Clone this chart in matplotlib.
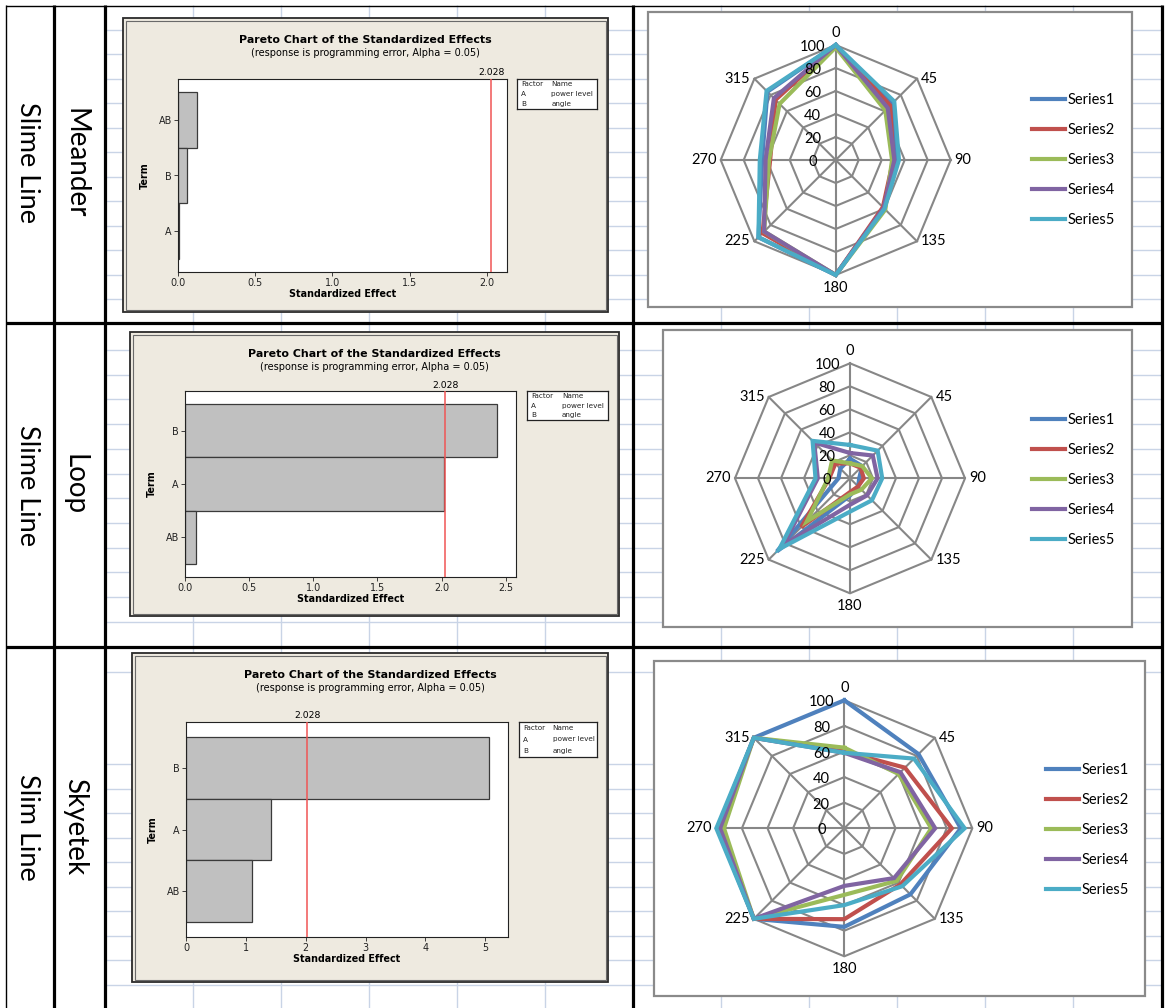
import numpy as np
import matplotlib
matplotlib.use('Agg')
import matplotlib.pyplot as plt
from matplotlib.patches import Rectangle
from matplotlib.transforms import blended_transform_factory

# ---------------- data ----------------
row_group = ['Slime Line', 'Slime Line', 'Slim Line']
row_name = ['Meander', 'Loop', 'Skyetek']

pareto_title = 'Pareto Chart of the Standardized Effects'
pareto_subtitle = '(response is programming error, Alpha = 0.05)'
alpha_limit = 2.028
factor_rows = [('Factor', 'Name'), ('A', 'power level'), ('B', 'angle')]

pareto1_terms = ['AB', 'B', 'A']          # top to bottom
pareto1_effects = [0.12, 0.056, 0.005]
pareto1_ticks = [0.0, 0.5, 1.0, 1.5, 2.0]
pareto1_tick_labels = ['0.0', '0.5', '1.0', '1.5', '2.0']

pareto2_terms = ['B', 'A', 'AB']
pareto2_effects = [2.43, 2.02, 0.085]
pareto2_ticks = [0.0, 0.5, 1.0, 1.5, 2.0, 2.5]
pareto2_tick_labels = ['0.0', '0.5', '1.0', '1.5', '2.0', '2.5']

pareto3_terms = ['B', 'A', 'AB']
pareto3_effects = [5.06, 1.42, 1.11]
pareto3_ticks = [0, 1, 2, 3, 4, 5]
pareto3_tick_labels = ['0', '1', '2', '3', '4', '5']

angles = [0, 45, 90, 135, 180, 225, 270, 315]
radial_ticks = [0, 20, 40, 60, 80, 100]
series_names = ['Series1', 'Series2', 'Series3', 'Series4', 'Series5']
series_colors = ['#4F81BD', '#C0504D', '#9BBB59', '#8064A2', '#4BACC6']

radar1 = [
    [100, 70, 53, 59, 100, 95, 64, 84],
    [100, 67, 50, 58, 100, 90, 57, 74],
    [98, 61, 49, 61, 100, 88, 58, 69],
    [100, 64, 51, 59, 100, 88, 61, 76],
    [100, 72, 55, 60, 100, 95, 66, 85],
]
radar2 = [
    [17, 15, 8, 10, 15, 90, 10, 12],
    [13, 13, 12, 10, 12, 60, 18, 18],
    [13, 15, 19, 14, 14, 53, 19, 22],
    [22, 28, 24, 21, 23, 82, 28, 44],
    [29, 34, 28, 27, 29, 87, 30, 46],
]
radar3 = [
    [100, 82, 91, 73, 77, 100, 99, 100],
    [60, 67, 84, 62, 71, 100, 98, 100],
    [63, 60, 68, 58, 52, 100, 94, 100],
    [59, 62, 71, 55, 45, 100, 97, 100],
    [59, 77, 94, 64, 60, 100, 100, 100],
]

# ---------------- layout helpers ----------------
W, H = 1165, 1008
fig = plt.figure(figsize=(W / 100, H / 100), dpi=100)
fig.patch.set_facecolor('white')


def px_axes(x0, y0, x1, y1, **kw):
    return fig.add_axes([x0 / W, 1 - y1 / H, (x1 - x0) / W, (y1 - y0) / H], **kw)


def ftext(x, y, s, **kw):
    return fig.text(x / W, 1 - y / H, s, **kw)


bg = px_axes(0, 0, W, H)
bg.set_xlim(0, W)
bg.set_ylim(H, 0)
bg.axis('off')

gridc = '#c9d4e6'
hy = list(30 + 24.45 * np.arange(12)) + list(350 + 24.7 * np.arange(12)) + [672] + list(764 + 24.5 * np.arange(10))
bg.hlines(hy, 105, 1161, color=gridc, lw=1.0, zorder=1)
vx = [x for x in (193 + 88 * np.arange(12)) if abs(x - 633) > 3 and abs(x - 1161) > 3]
bg.vlines(vx, 5, H, color=gridc, lw=1.0, zorder=1)

# table lines
bg.vlines([6], 5, H, color='black', lw=1.0, zorder=5)
bg.hlines([5.5], 6, 1162, color='black', lw=1.0, zorder=5)
bg.vlines([54, 105, 633, 1161.5], 5, H, color='black', lw=2.3, zorder=5)
bg.hlines([323, 647], 6, 1163, color='black', lw=2.3, zorder=5)

row_centers = [163, 485, 827]
for rc, g, n in zip(row_centers, row_group, row_name):
    ftext(27, rc, g, rotation=-90, ha='center', va='center', fontsize=19.5, family='Lato')
    ftext(75, rc, n, rotation=-90, ha='center', va='center', fontsize=20, family='Lato')

PF = 'DejaVu Sans'


def pareto(frame, plot, legbox, terms, effects, ticks, tlabels, xmax):
    fx0, fy0, fx1, fy1 = frame
    bg.add_patch(Rectangle((fx0, fy0), fx1 - fx0, fy1 - fy0, facecolor='#eeeae0',
                           edgecolor='#2a2a2a', lw=1.3, zorder=3))
    bg.add_patch(Rectangle((fx0 + 2.5, fy0 + 2.5), fx1 - fx0 - 5, fy1 - fy0 - 5, facecolor='none',
                           edgecolor='#6a6a6a', lw=0.8, zorder=3))
    px0, py0, px1, py1 = plot
    ax = px_axes(px0, py0, px1, py1)
    ax.set_facecolor('white')
    n = len(terms)
    pos = [n - 1 - i for i in range(n)]
    ax.barh(pos, effects, height=1.0, color='#c0c0c0', edgecolor='#3a3a3a', lw=0.9, zorder=2)
    ax.axvline(alpha_limit, color='#f05555', lw=1.1, zorder=3)
    ax.set_xlim(0, xmax)
    ax.set_ylim(-0.74, n - 1 + 0.74)
    ax.set_yticks(pos)
    ax.set_yticklabels(terms)
    ax.set_xticks(ticks)
    ax.set_xticklabels(tlabels)
    for sp in ax.spines.values():
        sp.set_linewidth(0.8)
        sp.set_color('#222222')
    ax.tick_params(axis='both', length=3, width=0.6, labelsize=6.9, pad=1.5, colors='#222222')
    for lab in ax.get_xticklabels() + ax.get_yticklabels():
        lab.set_family(PF)
    tr = blended_transform_factory(ax.transData, ax.transAxes)
    ax.text(alpha_limit, 1.008, '2.028', transform=tr, ha='center', va='bottom', fontsize=6.7, family=PF)
    cx = (fx0 + fx1) / 2
    ftext(cx, fy0 + 22, pareto_title, ha='center', va='center', fontsize=7.9, fontweight='bold', family=PF)
    ftext(cx, fy0 + 35, pareto_subtitle, ha='center', va='center', fontsize=7.0, family=PF)
    ftext((px0 + px1) / 2, py1 + 22, 'Standardized Effect', ha='center', va='center', fontsize=6.9,
          fontweight='bold', family=PF)
    ftext(px0 - 33, (py0 + py1) / 2, 'Term', ha='center', va='center', rotation=90, fontsize=6.9,
          fontweight='bold', family=PF)
    lx0, ly0, lx1, ly1 = legbox
    lg = px_axes(lx0, ly0, lx1, ly1)
    lg.set_xticks([])
    lg.set_yticks([])
    for sp in lg.spines.values():
        sp.set_linewidth(0.9)
        sp.set_color('#222222')
    nr = len(factor_rows)
    for i, (a, b) in enumerate(factor_rows):
        yy = 1 - (i + 0.5) / nr
        lg.text(0.05, yy, a, transform=lg.transAxes, fontsize=5.2, va='center', ha='left', family=PF, color='#222')
        lg.text(0.43, yy, b, transform=lg.transAxes, fontsize=5.2, va='center', ha='left', family=PF, color='#222')
    return ax


pareto((123, 18, 608, 312), (178, 79, 507, 272), (517, 79, 597, 109),
       pareto1_terms, pareto1_effects, pareto1_ticks, pareto1_tick_labels, 2.13)
pareto((130, 332, 619, 616), (185, 391, 516, 577), (527, 391, 608, 420),
       pareto2_terms, pareto2_effects, pareto2_ticks, pareto2_tick_labels, 2.58)
pareto((132, 653, 608, 982), (186, 722, 508, 937), (519, 722, 597, 757),
       pareto3_terms, pareto3_effects, pareto3_ticks, pareto3_tick_labels, 5.38)

RF = 'Lato'
theta = np.deg2rad(angles)
theta_c = np.append(theta, theta[0])


def radar(box, center, R, data, leg_xy):
    bx0, by0, bx1, by1 = box
    bg.add_patch(Rectangle((bx0, by0), bx1 - bx0, by1 - by0, facecolor='white',
                           edgecolor='#8a8a8a', lw=1.6, zorder=3))
    cx, cy = center
    ax = px_axes(cx - R, cy - R, cx + R, cy + R, projection='polar')
    ax.set_theta_zero_location('N')
    ax.set_theta_direction(-1)
    ax.set_ylim(0, 100)
    ax.set_xticks([])
    ax.set_yticks([])
    ax.grid(False)
    ax.spines['polar'].set_visible(False)
    ax.patch.set_alpha(0)
    gc = '#878787'
    for lv in radial_ticks[1:]:
        ax.plot(theta_c, [lv] * len(theta_c), color=gc, lw=1.5, clip_on=False, zorder=1)
    for t in theta:
        ax.plot([t, t], [0, 100], color=gc, lw=1.5, clip_on=False, zorder=1)
    handles = []
    for vals, col, name in zip(data, series_colors, series_names):
        v = list(vals) + [vals[0]]
        h, = ax.plot(theta_c, v, color=col, lw=3.0, clip_on=False, zorder=3, label=name,
                     solid_joinstyle='miter')
        handles.append(h)
    for a, t in zip(angles, theta):
        s, c = np.sin(t), np.cos(t)
        if a == 0:
            ha, va, off = 'center', 'bottom', (0, 5)
        elif a == 180:
            ha, va, off = 'center', 'top', (0, -6)
        else:
            ha = 'left' if s > 0 else 'right'
            va, off = 'center', (4 if s > 0 else -4, 0)
        ax.annotate(str(a), xy=(t, 100), xytext=off, textcoords='offset pixels', ha=ha, va=va,
                    fontsize=10.5, family=RF, annotation_clip=False)
    for v in radial_ticks:
        ax.annotate(str(v), xy=(0, v), xytext=(-23, -2), textcoords='offset pixels', ha='center',
                    va='center', fontsize=10.5, family=RF, annotation_clip=False)
    lx, ly = leg_xy
    ax.legend(handles=handles, loc='center left', bbox_to_anchor=(lx / W, 1 - ly / H),
              bbox_transform=fig.transFigure, frameon=False, prop={'family': RF, 'size': 10.5},
              handlelength=2.26, handletextpad=0.2, labelspacing=1.1, borderpad=0, borderaxespad=0)
    return ax


radar((648, 12, 1132, 307), (835.7, 160), 115, radar1, (1032, 160))
radar((663, 330, 1132, 627), (850, 478.3), 115, radar2, (1032, 480))
radar((654, 661, 1145, 996), (844.3, 828.3), 128, radar3, (1046, 830))

fig.savefig('out.png', dpi=100)
